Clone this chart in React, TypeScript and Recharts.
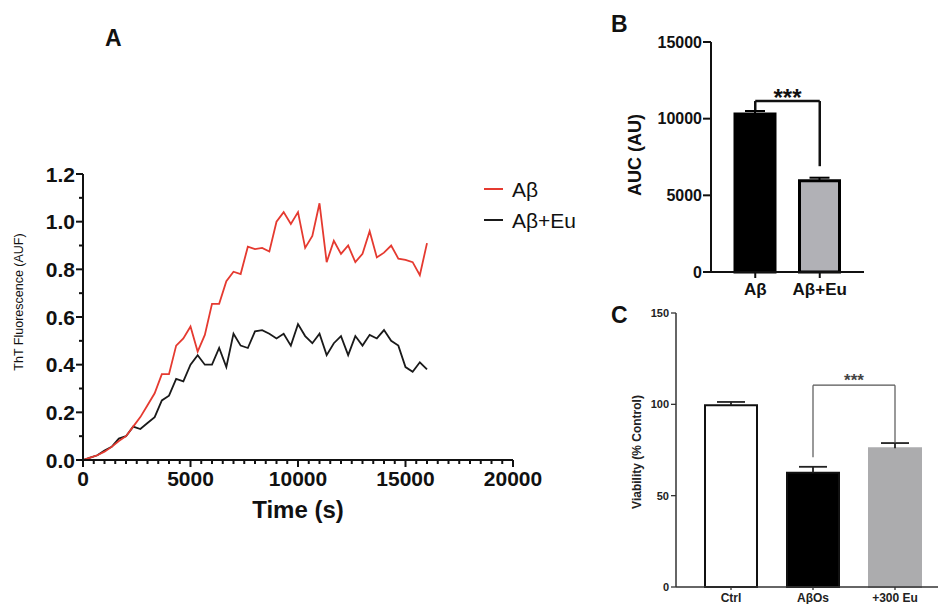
import React from "react";
import { LineChart, Line, XAxis, YAxis, BarChart, Bar, Cell, ReferenceLine } from "recharts";

const FONT = "'Liberation Sans', Arial, Helvetica, sans-serif";
const RED = "#e53a30";
const INK = "#111";

// ---- panel A: ThT kinetics ----
const timeS = [
  0, 333, 667, 1000, 1333, 1667, 2000, 2333, 2667, 3000, 3333, 3667, 4000, 4333, 4667, 5000, 5333,
  5667, 6000, 6333, 6667, 7000, 7333, 7667, 8000, 8333, 8667, 9000, 9333, 9667, 10000, 10333, 10667,
  11000, 11333, 11667, 12000, 12333, 12667, 13000, 13333, 13667, 14000, 14333, 14667, 15000, 15333,
  15667, 16000,
];
const abFluor = [
  0, 0.01, 0.02, 0.035, 0.055, 0.08, 0.1, 0.14, 0.18, 0.23, 0.28, 0.36, 0.36, 0.48, 0.51, 0.56, 0.455,
  0.525, 0.655, 0.655, 0.75, 0.79, 0.78, 0.895, 0.885, 0.89, 0.875, 1.0, 1.04, 0.99, 1.04, 0.89, 0.94,
  1.077, 0.83, 0.92, 0.865, 0.9, 0.83, 0.865, 0.96, 0.85, 0.87, 0.9, 0.845, 0.84, 0.83, 0.775, 0.91,
];
const abEuFluor = [
  0, 0.01, 0.02, 0.04, 0.055, 0.09, 0.1, 0.14, 0.13, 0.155, 0.18, 0.25, 0.27, 0.34, 0.33, 0.4, 0.44,
  0.4, 0.4, 0.47, 0.39, 0.53, 0.48, 0.47, 0.54, 0.545, 0.53, 0.51, 0.53, 0.48, 0.57, 0.52, 0.49, 0.53,
  0.44, 0.49, 0.52, 0.44, 0.52, 0.48, 0.525, 0.51, 0.545, 0.5, 0.48, 0.39, 0.37, 0.41, 0.38,
];
const timeTicks = [
  0, 500, 1000, 1500, 2000, 2500, 3000, 3500, 4000, 4500, 5000, 5500, 6000, 6500, 7000, 7500, 8000,
  8500, 9000, 9500, 10000, 10500, 11000, 11500, 12000, 12500, 13000, 13500, 14000, 14500, 15000,
  15500, 16000, 16500, 17000, 17500, 18000, 18500, 19000, 19500, 20000,
];
const fluorTicks = [0, 0.1, 0.2, 0.3, 0.4, 0.5, 0.6, 0.7, 0.8, 0.9, 1.0, 1.1, 1.2];

// ---- panel B: area under curve ----
const aucGroups = ["Aβ", "Aβ+Eu"];
const aucMeans = [10300, 5950];
const aucSem = [200, 200];
const aucFills = ["#000000", "#b1b1b6"];
const aucTicks = [0, 5000, 10000, 15000];

// ---- panel C: cell viability ----
const viaGroups = ["Ctrl", "AβOs", "+300 Eu"];
const viaMeans = [99.5, 62.5, 76];
const viaSem = [1.8, 3.3, 2.8];
const viaFills = ["#ffffff", "#000000", "#acacae"];
const viaStrokes = ["#111", "#111", "#acacae"];
const viaTicks = [0, 50, 100, 150];

const kinetics = timeS.map((t, i) => ({ t, ab: abFluor[i], abEu: abEuFluor[i] }));
const aucData = aucGroups.map((g, i) => ({ group: g, mean: aucMeans[i], sem: aucSem[i] }));
const viaData = viaGroups.map((g, i) => ({ group: g, mean: viaMeans[i], sem: viaSem[i] }));

// one-sided (upward) error whisker, drawn as a stacked segment on top of the mean bar
const Whisker = (props: any) => {
  const { x, y, width, height, cap, color, lw } = props;
  if (x == null || y == null) return null;
  const cx = x + width / 2;
  return (
    <g>
      <line x1={cx} y1={y + height} x2={cx} y2={y} stroke={color} strokeWidth={lw} />
      <line x1={cx - cap / 2} y1={y} x2={cx + cap / 2} y2={y} stroke={color} strokeWidth={lw} />
    </g>
  );
};

const TimeTick = ({ x, y, payload }: any) => {
  const major = payload.value % 5000 === 0;
  return (
    <g>
      <line x1={x} y1={y} x2={x} y2={y + (major ? 7 : 4)} stroke={INK} strokeWidth={2} />
      {major && (
        <text x={x} y={y + 26} textAnchor="middle" fontSize={21} fontWeight={700} fontFamily={FONT} fill={INK}>
          {payload.value}
        </text>
      )}
    </g>
  );
};

const FluorTick = ({ x, y, payload }: any) => {
  const major = Math.round(payload.value * 10) % 2 === 0;
  return (
    <g>
      <line x1={x - (major ? 7 : 4)} y1={y} x2={x} y2={y} stroke={INK} strokeWidth={2} />
      {major && (
        <text x={x - 8} y={y + 7.5} textAnchor="end" fontSize={21} fontWeight={700} fontFamily={FONT} fill={INK}>
          {payload.value.toFixed(1)}
        </text>
      )}
    </g>
  );
};

function KineticsPanel() {
  return (
    <LineChart width={600} height={520} data={kinetics} margin={{ top: 174, right: 87, bottom: 0, left: 0 }}>
      <XAxis
        dataKey="t"
        type="number"
        domain={[0, 20000]}
        ticks={timeTicks}
        interval={0}
        tickSize={0}
        tickMargin={0}
        tick={<TimeTick />}
        axisLine={{ stroke: INK, strokeWidth: 2 }}
        height={60}
      />
      <YAxis
        type="number"
        domain={[0, 1.2]}
        ticks={fluorTicks}
        interval={0}
        tickSize={0}
        tickMargin={0}
        tick={<FluorTick />}
        axisLine={{ stroke: INK, strokeWidth: 2 }}
        width={83}
      />
      <Line dataKey="abEu" stroke="#1a1a1a" strokeWidth={1.8} dot={false} isAnimationActive={false} />
      <Line dataKey="ab" stroke={RED} strokeWidth={1.8} dot={false} isAnimationActive={false} />
    </LineChart>
  );
}

function AucPanel() {
  const tickFont = { fontSize: 16, fontWeight: 700, fill: INK, fontFamily: FONT };
  return (
    <BarChart width={300} height={310} data={aucData} margin={{ top: 42, right: 16, bottom: 0, left: 0 }}>
      <XAxis
        dataKey="group"
        padding={{ left: 12, right: 12 }}
        tickSize={6}
        tickMargin={5}
        tick={{ ...tickFont, fontSize: 17 }}
        tickLine={{ stroke: INK, strokeWidth: 2 }}
        axisLine={{ stroke: INK, strokeWidth: 2 }}
        height={38}
      />
      <YAxis
        domain={[0, 15000]}
        ticks={aucTicks}
        interval={0}
        tickSize={8}
        tickMargin={1}
        tick={tickFont}
        tickLine={{ stroke: INK, strokeWidth: 2 }}
        axisLine={{ stroke: INK, strokeWidth: 2 }}
        width={131}
      />
      <Bar dataKey="mean" stackId="auc" barSize={40} isAnimationActive={false}>
        {aucData.map((d, i) => (
          <Cell key={d.group} fill={aucFills[i]} stroke="#000" strokeWidth={3} />
        ))}
      </Bar>
      <Bar
        dataKey="sem"
        stackId="auc"
        barSize={40}
        isAnimationActive={false}
        shape={<Whisker cap={20} color="#000" lw={2} />}
      />
      <ReferenceLine segment={[{ x: "Aβ", y: 10550 }, { x: "Aβ", y: 11150 }]} stroke={INK} strokeWidth={2.5} />
      <ReferenceLine
        segment={[{ x: "Aβ", y: 11150 }, { x: "Aβ+Eu", y: 11150 }]}
        stroke={INK}
        strokeWidth={2.5}
        label={{ value: "***", position: "center", dy: -4, fontSize: 24, fontWeight: 700, fill: INK, fontFamily: FONT }}
      />
      <ReferenceLine segment={[{ x: "Aβ+Eu", y: 11150 }, { x: "Aβ+Eu", y: 6900 }]} stroke={INK} strokeWidth={2.5} />
    </BarChart>
  );
}

function ViabilityPanel() {
  const tickFont = { fontSize: 11, fontWeight: 700, fill: "#222", fontFamily: FONT };
  return (
    <BarChart width={358} height={304} data={viaData} margin={{ top: 13, right: 0, bottom: 0, left: 0 }}>
      <XAxis
        dataKey="group"
        padding={{ left: 14, right: 2 }}
        tickSize={3}
        tickMargin={3}
        tick={{ ...tickFont, fontSize: 12 }}
        tickLine={{ stroke: "#333", strokeWidth: 1.3 }}
        axisLine={{ stroke: "#333", strokeWidth: 1.5 }}
        height={17}
      />
      <YAxis
        domain={[0, 150]}
        ticks={viaTicks}
        interval={0}
        tickSize={5}
        tickMargin={2}
        tick={tickFont}
        tickLine={{ stroke: "#333", strokeWidth: 1.3 }}
        axisLine={{ stroke: "#333", strokeWidth: 1.5 }}
        width={96}
      />
      <Bar dataKey="mean" stackId="via" barSize={52} isAnimationActive={false}>
        {viaData.map((d, i) => (
          <Cell key={d.group} fill={viaFills[i]} stroke={viaStrokes[i]} strokeWidth={2} />
        ))}
      </Bar>
      <Bar
        dataKey="sem"
        stackId="via"
        barSize={52}
        isAnimationActive={false}
        shape={<Whisker cap={28} color="#222" lw={1.8} />}
      />
      <ReferenceLine segment={[{ x: "AβOs", y: 71 }, { x: "AβOs", y: 110.5 }]} stroke="#555" strokeWidth={1.2} />
      <ReferenceLine
        segment={[{ x: "AβOs", y: 110.5 }, { x: "+300 Eu", y: 110.5 }]}
        stroke="#555"
        strokeWidth={1.2}
        label={{ value: "***", position: "center", dy: -5, fontSize: 17, fontWeight: 700, fill: "#444", fontFamily: FONT }}
      />
      <ReferenceLine segment={[{ x: "+300 Eu", y: 110.5 }, { x: "+300 Eu", y: 79 }]} stroke="#555" strokeWidth={1.2} />
    </BarChart>
  );
}

export default function App() {
  return (
    <div style={{ position: "absolute", left: 0, top: 0, width: 938, height: 604, background: "#fff", fontFamily: FONT }}>
      <div style={{ position: "absolute", left: 0, top: 0 }}>
        <KineticsPanel />
      </div>
      <div style={{ position: "absolute", left: 580, top: 0 }}>
        <AucPanel />
      </div>
      <div style={{ position: "absolute", left: 580, top: 300 }}>
        <ViabilityPanel />
      </div>
      <svg width={938} height={604} style={{ position: "absolute", left: 0, top: 0, pointerEvents: "none" }} fontFamily={FONT}>
        <text x={105} y={46} fontSize={23} fontWeight={700} fill={INK}>A</text>
        <text x={611} y={32} fontSize={23} fontWeight={700} fill={INK}>B</text>
        <text x={611} y={323} fontSize={23} fontWeight={700} fill={INK}>C</text>

        <text x={298} y={518} textAnchor="middle" fontSize={24} fontWeight={700} fill={INK}>Time (s)</text>
        <text transform="translate(23,302) rotate(-90)" textAnchor="middle" fontSize={12.5} fill={INK}>
          ThT Fluorescence (AUF)
        </text>
        <text transform="translate(641,155) rotate(-90)" textAnchor="middle" fontSize={18} fontWeight={700} fill={INK}>
          AUC (AU)
        </text>
        <text transform="translate(641,452) rotate(-90)" textAnchor="middle" fontSize={12} fontWeight={700} fill="#222">
          Viability (% Control)
        </text>

        <line x1={484} y1={189} x2={503} y2={189} stroke={RED} strokeWidth={2} />
        <text x={512} y={197} fontSize={21} fill={INK}>Aβ</text>
        <line x1={484} y1={220} x2={503} y2={220} stroke="#1a1a1a" strokeWidth={2} />
        <text x={512} y={228} fontSize={21} fill={INK}>Aβ+Eu</text>
      </svg>
    </div>
  );
}
